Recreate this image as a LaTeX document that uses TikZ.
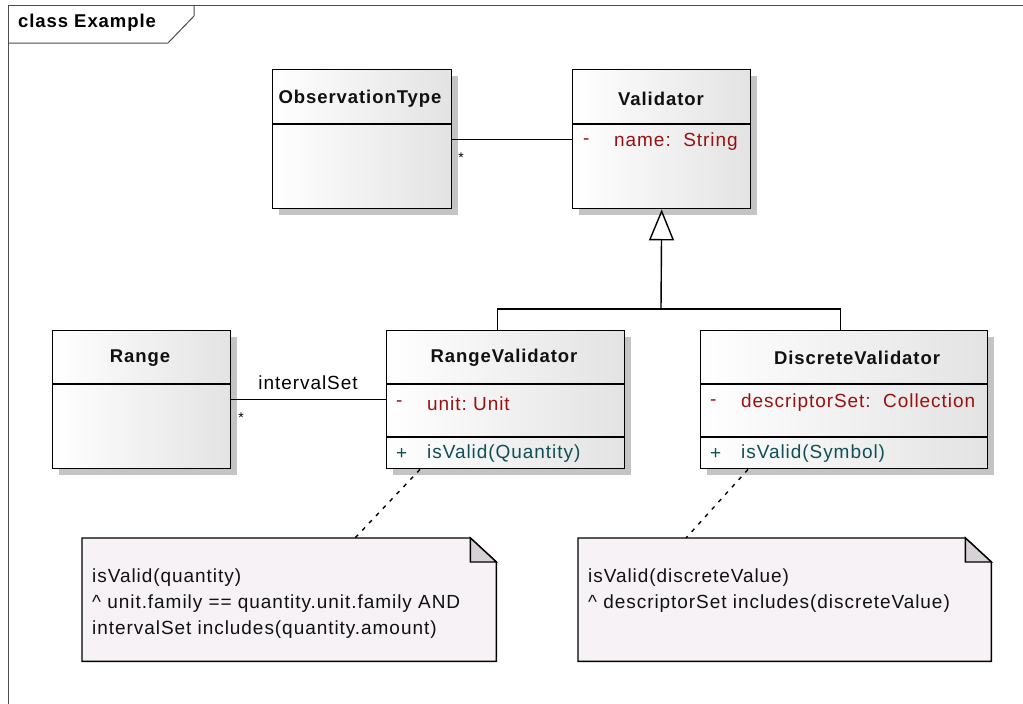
\documentclass[tikz,border=0pt]{standalone}
\usepackage{fontspec}
\setmainfont{Liberation Sans}[LetterSpace=5]
\usepackage{xcolor}
\definecolor{textdark}{HTML}{111111}
\definecolor{attrred}{HTML}{9A1010}
\definecolor{opteal}{HTML}{0F4F55}
\definecolor{shade}{HTML}{C4C4C4}
\definecolor{notefill}{HTML}{F6F2F6}
\definecolor{foldfill}{HTML}{D6D2D6}
\usetikzlibrary{arrows.meta,positioning,calc,shadows}

\begin{document}
\begin{tikzpicture}[x=1pt, y=-1pt,
    cls/.style={rectangle, draw=black, line width=1.4pt, left color=white, right color=black!11, inner sep=0pt, anchor=north west,
      drop shadow={shadow xshift=6pt, shadow yshift=-6pt, fill=shade, opacity=1}},
    clsname/.style={font=\fontsize{18.5}{22}\selectfont\bfseries, text=textdark},
    attr/.style={font=\fontsize{19}{22}\selectfont, text=attrred, anchor=west, inner sep=0pt},
    oper/.style={font=\fontsize{19}{22}\selectfont, text=opteal, anchor=west, inner sep=0pt},
    notetxt/.style={font=\fontsize{19}{22}\selectfont, text=textdark, anchor=west, inner sep=0pt},
    assoc/.style={line width=1.4pt},
    notelink/.style={line width=1.4pt, dash pattern=on 4pt off 6pt},
  ]
    \useasboundingbox[fill=white] (0,0) rectangle (1023,704);
    % frame
    \draw[line width=1pt, black!70] (8,710) -- (8,5) -- (1030,5);
    \draw[line width=1pt, black!70] (194,5) -- (194,16) -- (168,43) -- (8,43);
    \node[font=\fontsize{18.5}{22}\selectfont\bfseries, anchor=west, inner sep=0pt] (title) at (18,23) {class Example};

    % classes
    \node[cls, minimum width=179pt, minimum height=139pt] (obs) at (272,69) {};
    \node[cls, minimum width=178pt, minimum height=139pt] (val) at (572,69) {};
    \node[cls, minimum width=178pt, minimum height=138pt] (rng) at (52,330) {};
    \node[cls, minimum width=238pt, minimum height=138pt] (rv) at (386,330) {};
    \node[cls, minimum width=287pt, minimum height=138pt] (dv) at (700,330) {};
    \draw[line width=1.4pt] (obs.west |- 0,124) -- (obs.east |- 0,124);
    \draw[line width=1.4pt] (val.west |- 0,124) -- (val.east |- 0,124);
    \draw[line width=1.4pt] (rng.west |- 0,384) -- (rng.east |- 0,384);
    \draw[line width=1.4pt] (rv.west |- 0,384) -- (rv.east |- 0,384);
    \draw[line width=1.4pt] (rv.west |- 0,437) -- (rv.east |- 0,437);
    \draw[line width=1.4pt] (dv.west |- 0,384) -- (dv.east |- 0,384);
    \draw[line width=1.4pt] (dv.west |- 0,437) -- (dv.east |- 0,437);

    % Labels
    \node[clsname] (obsname) at (360,99) {ObservationType};
    \node[clsname] (valname) at (661,99) {Validator};
    \node[clsname] (rngname) at (140,358) {Range};
    \node[clsname] (rvname) at (504,358) {RangeValidator};
    \node[clsname] (dvname) at (857,358) {DiscreteValidator};
    \node[attr] (valvis) at (583,142) {-};
    \node[attr] (valattr) at (614,142) {name:\ \ String};
    \node[attr] (rvvis) at (396,404) {-};
    \node[attr] (rvattr) at (427,404) {unit:\ Unit};
    \node[oper] (rvopvis) at (396,454) {+};
    \node[oper] (rvop) at (427,454) {isValid(Quantity)};
    \node[attr] (dvvis) at (710,403) {-};
    \node[attr] (dvattr) at (741,403) {descriptorSet:\ \ Collection};
    \node[oper] (dvopvis) at (710,454) {+};
    \node[oper] (dvop) at (741,454) {isValid(Symbol)};

    % associations
    \draw[assoc] (obs.east) -- (val.west);
    \node[font=\fontsize{14}{15}\selectfont] (obsmult) at (461,158) {*};
    \draw[assoc] (rng.east) -- (rv.west);
    \node[font=\fontsize{19}{22}\selectfont] (ivset) at (308,383) {intervalSet};
    \node[font=\fontsize{14}{15}\selectfont] (rngmult) at (241,418) {*};

    % generalization
    \coordinate (gen) at (661,309);
    \draw[line width=1.4pt, -{Triangle[open, length=31pt, width=25pt, line width=1.4pt]}] (gen) -- (val.south);
    \draw[line width=1.4pt] ([xshift=-8pt]rv.north) |- (gen) -| ([xshift=-4pt]dv.north);

    % notes
    \node[minimum width=414pt, minimum height=123pt, anchor=north west, inner sep=0pt] (note1) at (82,538) {};
    \node[minimum width=413pt, minimum height=123pt, anchor=north west, inner sep=0pt] (note2) at (578,538) {};
    \filldraw[line width=1.4pt, fill=notefill] (note1.north west) -- ([xshift=-26pt]note1.north east) -- ([yshift=-24pt]note1.north east) -- (note1.south east) -- (note1.south west) -- cycle;
    \filldraw[line width=1.4pt, fill=foldfill] ([xshift=-26pt]note1.north east) -- ([xshift=-26pt, yshift=-24pt]note1.north east) -- ([yshift=-24pt]note1.north east) -- cycle;
    \filldraw[line width=1.4pt, fill=notefill] (note2.north west) -- ([xshift=-26pt]note2.north east) -- ([yshift=-24pt]note2.north east) -- (note2.south east) -- (note2.south west) -- cycle;
    \filldraw[line width=1.4pt, fill=foldfill] ([xshift=-26pt]note2.north east) -- ([xshift=-26pt, yshift=-24pt]note2.north east) -- ([yshift=-24pt]note2.north east) -- cycle;
    \node[notetxt] (n1a) at (92,578) {isValid(quantity)};
    \node[notetxt] (n1b) at (92,604) {\^{} unit.family == quantity.unit.family AND};
    \node[notetxt] (n1c) at (92,630) {intervalSet includes(quantity.amount)};
    \node[notetxt] (n2a) at (588,578) {isValid(discreteValue)};
    \node[notetxt] (n2b) at (588,604) {\^{} descriptorSet includes(discreteValue)};
    \draw[notelink] (rv.south -| 420,0) -- (note1.north -| 355,0);
    \draw[notelink] (dv.south -| 748,0) -- (note2.north -| 686,0);
  \end{tikzpicture}
\end{document}
